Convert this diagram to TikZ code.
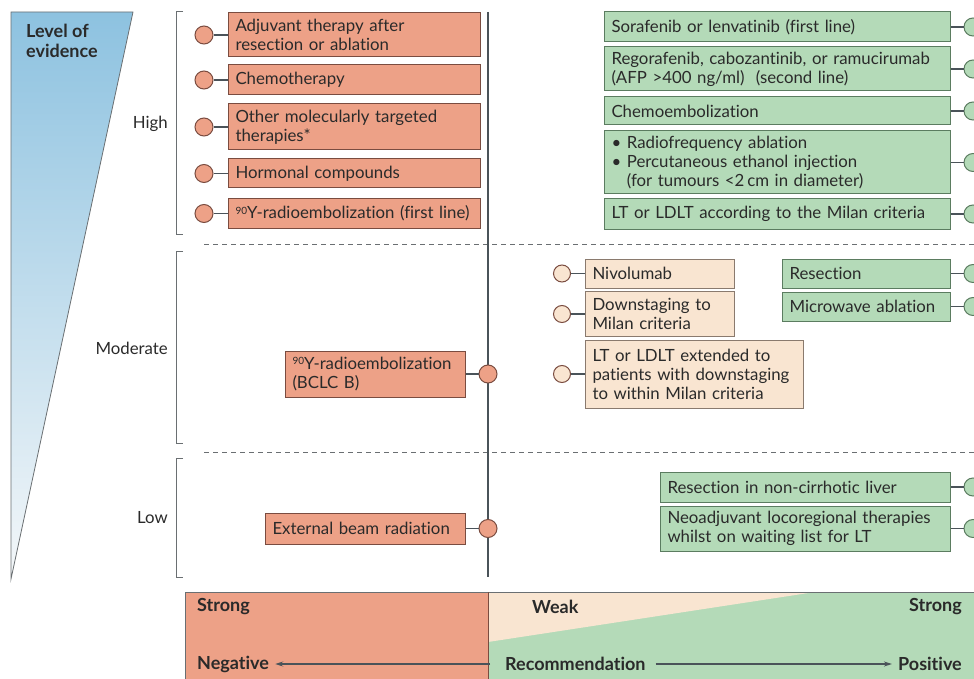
\documentclass[tikz,border=0pt]{standalone}
\usepackage{fontspec}
\setmainfont{Lato}[Ligatures={NoCommon}]
\usetikzlibrary{arrows.meta, positioning, calc}
\definecolor{negFill}{HTML}{EDA187}
\definecolor{negLine}{HTML}{7A4C40}
\definecolor{posFill}{HTML}{B4DAB8}
\definecolor{posLine}{HTML}{5B7C60}
\definecolor{weakFill}{HTML}{F9E5D1}
\definecolor{weakLine}{HTML}{8A7A6E}
\definecolor{axisGray}{HTML}{4A5359}
\definecolor{txtDark}{HTML}{2A2A2A}
\definecolor{evBlue}{HTML}{8DC2E0}
\definecolor{evPale}{HTML}{F4F7F9}
\definecolor{rulGray}{HTML}{6A6F72}
\newcommand{\ninety}{{\fontsize{10}{10}\selectfont\raisebox{4.5pt}{90}}}

\begin{document}
\begin{tikzpicture}[
  x=1pt, y=-1pt,
  font=\fontsize{16.8}{19}\selectfont,
  box/.style    ={draw, line width=1pt, align=left, anchor=west, text=txtDark,
                  inner xsep=7pt, inner ysep=1pt},
  negbox/.style ={box, fill=negFill, draw=negLine},
  posbox/.style ={box, fill=posFill, draw=posLine},
  weakbox/.style={box, fill=weakFill, draw=weakLine},
  dotneg/.style ={circle, minimum size=18pt, inner sep=0pt, fill=negFill, draw=negLine, line width=1pt},
  dotpos/.style ={circle, minimum size=18pt, inner sep=0pt, fill=posFill, draw=posLine, line width=1pt},
  dotweak/.style={circle, minimum size=17pt, inner sep=0pt, fill=weakFill, draw=negLine, line width=1pt},
  link/.style   ={draw=axisGray, line width=1.3pt},
  lvltxt/.style ={text=txtDark, anchor=east, inner sep=0pt},
  bracket/.style={draw=rulGray, line width=1pt},
  dashsep/.style={draw=rulGray, line width=0.9pt, dash pattern=on 5pt off 4pt},
  scaletxt/.style={font=\fontsize{18}{20}\selectfont\bfseries, text=txtDark, inner sep=0pt},
  flow/.style   ={-{Stealth[length=8pt, width=5pt]}, draw=axisGray, line width=1.3pt},
]
\useasboundingbox (0,0) rectangle (974,679);
% ----- Level of evidence -----
\shade[top color=evBlue, bottom color=evPale, draw=rulGray, line width=0.8pt]
  (11,12) -- (133,12) -- (11,579) -- cycle;
\node[font=\fontsize{18}{20}\selectfont\bfseries, text=txtDark, align=left, anchor=north west, inner sep=0pt]
  (ev) at (26,24) {Level of\\evidence};
% ----- Brackets and separators -----
\draw[bracket] (183,12) -- (176,12) -- (176,234) -- (183,234);
\draw[bracket] (183,251) -- (176,251) -- (176,443) -- (183,443);
\draw[bracket] (183,458) -- (176,458) -- (176,577) -- (183,577);
\node[lvltxt] (high) at (168,124) {High};
\node[lvltxt] (mod)  at (168,348) {Moderate};
\node[lvltxt] (low)  at (168,518) {Low};
\draw[dashsep] (204,244) -- (974,244);
\draw[dashsep] (204,452) -- (974,452);
% ----- Axis -----
\coordinate (axT) at (488,12);
\coordinate (axB) at (488,577);
\draw[draw=axisGray, line width=2pt] (axT) -- (axB);
% ----- High: negative -----
\node[negbox, text width=238pt, minimum height=44pt] (n1) at (228,35)  {Adjuvant therapy after\\resection or ablation};
\node[negbox, text width=238pt, minimum height=30pt] (n2) at (228,80)  {Chemotherapy};
\node[negbox, text width=238pt, minimum height=46pt] (n3) at (228,127) {Other molecularly targeted\\therapies*};
\node[negbox, text width=238pt, minimum height=29pt] (n4) at (228,173.5) {Hormonal compounds};
\node[negbox, text width=238pt, minimum height=29pt] (n5) at (228,213.5) {\ninety Y-radioembolization (first line)};
\foreach \i/\y in {1/35, 2/80, 3/127, 4/173.5, 5/213.5} {
  \node[dotneg] (cn\i) at (204,\y) {};
  \draw[link] (cn\i) -- (n\i);
}
% ----- High: positive -----
\node[posbox, text width=332pt, minimum height=30pt] (p1) at (604,27)  {Sorafenib or lenvatinib (first line)};
\node[posbox, text width=332pt, minimum height=44pt] (p2) at (604,69)  {Regorafenib, cabozantinib, or ramucirumab\\(AFP >400 ng/ml)\ \ (second line)};
\node[posbox, text width=332pt, minimum height=28pt] (p3) at (604,111) {Chemoembolization};
\node[posbox, text width=332pt, minimum height=63pt] (p4) at (604,162.5)
  {\textbullet\ Radiofrequency ablation\\\textbullet\ Percutaneous ethanol injection\\\phantom{\textbullet\ }(for tumours <2\,cm in diameter)};
\node[posbox, text width=332pt, minimum height=30pt] (p5) at (604,214) {LT or LDLT according to the Milan criteria};
\foreach \i/\y in {1/27, 2/69, 3/111, 4/162.5, 5/214} {
  \node[dotpos] (cp\i) at (973,\y) {};
  \draw[link] (p\i) -- (cp\i);
}
% ----- Moderate -----
\node[negbox, text width=166pt, minimum height=46pt, anchor=east] (n6) at (466,374) {\ninety Y-radioembolization\\(BCLC B)};
\node[dotneg] (cn6) at (488,374) {};
\draw[link] (n6) -- (cn6);
\node[weakbox, text width=135pt, minimum height=29pt] (w1) at (585,273.5) {Nivolumab};
\node[weakbox, text width=135pt, minimum height=45pt] (w2) at (585,314)   {Downstaging to\\Milan criteria};
\node[weakbox, text width=204pt, minimum height=68pt] (w3) at (585,374)   {LT or LDLT extended to\\patients with downstaging\\to within Milan criteria};
\foreach \i/\y in {1/273.5, 2/314, 3/374} {
  \node[dotweak] (cw\i) at (562,\y) {};
  \draw[link] (cw\i) -- (w\i);
}
\node[posbox, text width=154pt, minimum height=29pt] (p6) at (782,273.5) {Resection};
\node[posbox, text width=154pt, minimum height=29pt] (p7) at (782,306.5) {Microwave ablation};
\foreach \i/\y in {6/273.5, 7/306.5} {
  \node[dotpos] (cp\i) at (973,\y) {};
  \draw[link] (p\i) -- (cp\i);
}
% ----- Low -----
\node[negbox, text width=186pt, minimum height=31pt, anchor=east] (n7) at (466,528.5) {External beam radiation};
\node[dotneg] (cn7) at (488,528.5) {};
\draw[link] (n7) -- (cn7);
\node[posbox, text width=276pt, minimum height=30pt] (p8) at (660,487)   {Resection in non-cirrhotic liver};
\node[posbox, text width=276pt, minimum height=45pt] (p9) at (660,528.5) {Neoadjuvant locoregional therapies\\whilst on waiting list for LT};
\foreach \i/\y in {8/487, 9/528.5} {
  \node[dotpos] (cp\i) at (973,\y) {};
  \draw[link] (p\i) -- (cp\i);
}
% ----- Recommendation scale -----
\fill[negFill] (185,592) rectangle (488,679);
\fill[posFill] (488,592) rectangle (974,679);
\fill[weakFill] (488,592) -- (815,592) -- (488,642) -- cycle;
\draw[draw=rulGray, line width=0.8pt] (185,679) -- (185,592) -- (974,592);
\draw[draw=negLine, line width=0.8pt] (488,592) -- (488,679);
\node[scaletxt, anchor=west] (sneg) at (197,607) {Strong};
\node[scaletxt, anchor=west] (weak) at (532,607) {Weak};
\node[scaletxt, anchor=east] (spos) at (962,607) {Strong};
\node[scaletxt, anchor=west] (ng) at (197,664) {Negative};
\node[scaletxt, anchor=west] (rc) at (505,664) {Recommendation};
\node[scaletxt, anchor=east] (ps) at (962,664) {Positive};
\coordinate (rcL) at (490,664);
\draw[flow] (rcL) -- ([xshift=6pt]ng.east);
\draw[flow] ([xshift=10pt]rc.east) -- ([xshift=-6pt]ps.west);
\end{tikzpicture}
\end{document}
